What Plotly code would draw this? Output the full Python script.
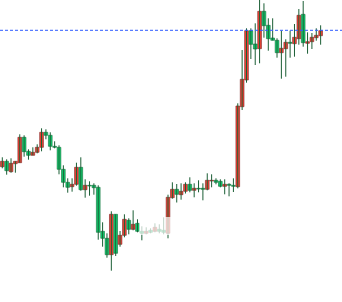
import plotly.graph_objects as go

opens = [133.3,138.7,128.3,136.3,137.3,162.7,148.7,144.7,147.7,152.7,167.7,164.7,153.7,152.7,130.7,117.7,113.3,115.7,132.7,110.3,
         114.7,114.7,112.7,68.7,61.7,45.3,85.7,55.7,64.7,79.7,70.7,76.7,68.7,66.7,69.7,68.7,70.7,69.7,66.7,102.3,
         110.7,105.3,108.7,115.7,109.7,111.7,111.7,110.7,119.0,119.7,118.7,113.7,115.7,114.7,113.3,193.3,220.0,269.3,256.0,251.3,
         288.7,274.7,262.0,259.7,247.3,251.3,257.7,256.3,261.3,285.7,256.7,258.3,262.3,264.3]
closes = [138.7,129.3,136.7,138.7,162.7,148.3,144.7,147.7,152.7,167.7,164.7,153.7,152.7,130.7,117.7,112.7,115.7,132.7,110.3,114.7,
          114.0,112.3,67.7,61.7,45.3,85.7,46.7,64.7,80.7,70.7,75.7,68.7,66.7,68.7,67.7,72.7,68.7,67.7,102.7,110.7,
          105.7,108.7,115.7,109.7,111.7,111.0,110.7,119.7,119.7,117.7,113.7,115.7,114.7,113.7,194.0,220.7,269.3,255.7,251.0,288.7,
          274.3,261.3,259.7,247.3,251.7,257.7,256.7,262.7,284.7,257.3,258.3,262.7,264.7,269.3]
highs = [142.7,140.7,141.7,138.7,165.7,164.7,150.7,152.7,155.7,171.7,170.7,167.7,158.7,154.7,134.7,121.7,121.7,137.3,142.7,120.7,
         118.7,116.7,114.7,77.7,66.7,88.7,85.7,69.0,85.7,81.7,89.7,80.7,73.7,72.7,71.7,76.7,75.7,82.7,105.3,117.7,
         116.0,116.7,117.7,122.7,116.7,119.7,116.7,126.7,125.7,121.7,120.7,120.7,116.7,121.7,196.7,250.0,271.7,271.7,276.7,301.0,
         296.7,281.7,281.7,261.7,269.3,260.7,269.3,276.0,291.0,299.0,267.7,267.0,271.7,274.7]
lows = [131.7,125.3,127.3,127.3,137.3,143.3,140.3,144.7,146.7,148.7,160.7,149.7,151.7,125.7,112.7,107.3,108.3,114.3,109.3,102.3,
        104.3,105.3,60.3,53.3,42.3,29.3,44.0,53.3,62.7,65.7,69.7,67.7,59.7,65.7,66.7,67.7,66.7,65.7,61.7,101.3,
        97.5,100.3,106.5,107.7,102.7,107.7,99.7,109.7,112.7,115.7,112.7,105.7,103.7,108.0,111.7,190.0,217.3,241.0,235.0,236.7,
        262.3,249.3,259.7,242.3,221.3,223.3,242.3,243.3,255.3,253.3,246.3,251.0,259.3,255.3]
ref_level = 269.7

UP_FILL, UP_LINE = "#f44336", "#7a1f1f"
DN_FILL, DN_LINE = "#0fd070", "#126b38"
WICK = "#1b5e35"

n = len(opens)
xs = list(range(n))
body_lo = [min(o, c) for o, c in zip(opens, closes)]
body_len = [max(abs(c - o), 0.6) for o, c in zip(opens, closes)]
up = [c >= o for o, c in zip(opens, closes)]

wx, wy = [], []
for i in xs:
    wx += [i, i, None]
    wy += [lows[i], highs[i], None]

fig = go.Figure()
fig.add_trace(go.Scatter(x=wx, y=wy, mode="lines", line=dict(color=WICK, width=1),
                         hoverinfo="skip", showlegend=False))
fig.add_trace(go.Bar(
    x=xs, y=body_len, base=body_lo, width=0.85,
    marker=dict(color=[UP_FILL if u else DN_FILL for u in up],
                line=dict(color=[UP_LINE if u else DN_LINE for u in up], width=0.6)),
    showlegend=False))

fig.add_shape(type="line", xref="paper", x0=0, x1=1, yref="y", y0=ref_level, y1=ref_level,
              line=dict(color="#2f5cff", width=1, dash="3px,2px"))
fig.add_shape(type="rect", xref="x", yref="y", x0=31.4, x1=38.7, y0=65, y1=83,
              fillcolor="rgba(255,255,255,0.72)", line=dict(width=0), layer="above")

fig.update_layout(
    width=342, height=302, margin=dict(l=0, r=0, t=0, b=0),
    paper_bgcolor="white", plot_bgcolor="white", showlegend=False, barmode="overlay",
    xaxis=dict(range=[-0.53, 77.9], visible=False),
    yaxis=dict(range=[-2, 300], visible=False),
)
fig.write_html("out.html")
